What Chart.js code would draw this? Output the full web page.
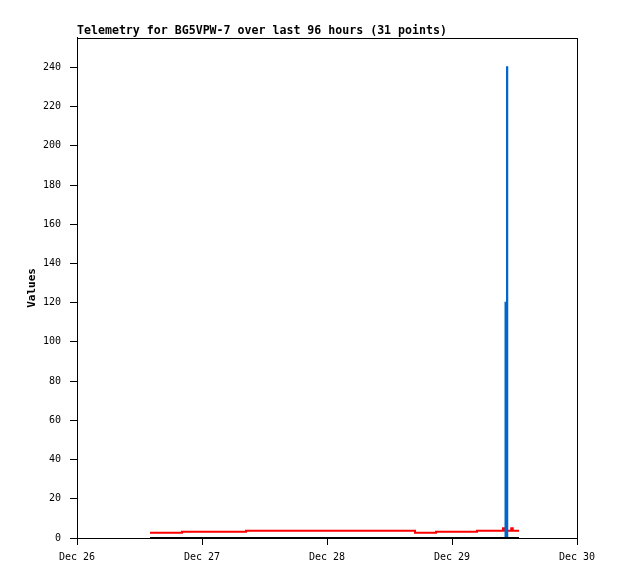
<!DOCTYPE html>
<html>
<head>
<meta charset="utf-8">
<script src="https://cdn.jsdelivr.net/npm/chart.js@4/dist/chart.umd.min.js"></script>
<style>
  html, body { margin: 0; padding: 0; background: #fff; }
  #wrap { width: 618px; height: 579px; }
</style>
</head>
<body>
<div id="wrap"><canvas id="telemetry"></canvas></div>
<script>
// time of each packet, in days of December
const times = [
  26.584, 26.84, 26.97, 27.10, 27.23, 27.352, 27.49, 27.63, 27.77, 27.91,
  28.05, 28.19, 28.33, 28.47, 28.60, 28.704, 28.872, 29.00, 29.10, 29.2,
  29.31, 29.396, 29.408, 29.42, 29.428, 29.44, 29.442, 29.462, 29.474, 29.486,
  29.536
];
// each value holds from its packet until the next one
const redValues = [
  2.7, 3.2, 3.2, 3.2, 3.2, 3.7, 3.7, 3.7, 3.7, 3.7,
  3.7, 3.7, 3.7, 3.7, 3.7, 2.7, 3.2, 3.2, 3.2, 3.7,
  3.7, 3.7, 5.0, 3.7, 3.7, 3.7, 3.7, 3.7, 5.0, 3.7,
  3.7
];
const blueValues = [
  0, 0, 0, 0, 0, 0, 0, 0, 0, 0,
  0, 0, 0, 0, 0, 0, 0, 0, 0, 0,
  0, 0, 0, 0, 120, 240, 0, 0, 0, 0,
  0
];
const blackValues = [
  0, 0, 0, 0, 0, 0, 0, 0, 0, 0,
  0, 0, 0, 0, 0, 0, 0, 0, 0, 0,
  0, 0, 0, 0, 0, 0, 0, 0, 0, 0,
  0
];
const dayTicks = [26, 27, 28, 29, 30];
const valueTicks = [0, 20, 40, 60, 80, 100, 120, 140, 160, 180, 200, 220, 240];

const pts = vals => vals.map((v, i) => ({ x: times[i], y: v }));
const mono = 'DejaVu Sans Mono';

const frame = {
  id: 'frame',
  afterDatasetsDraw(chart) {
    const a = chart.chartArea, ctx = chart.ctx;
    ctx.save();
    ctx.strokeStyle = '#000';
    ctx.lineWidth = 1;
    ctx.strokeRect(Math.round(a.left) + 0.5, Math.round(a.top) + 0.5,
      Math.round(a.right - a.left), Math.round(a.bottom - a.top));
    ctx.restore();
  }
};

new Chart(document.getElementById('telemetry'), {
  type: 'line',
  data: {
    datasets: [
      { data: pts(blackValues), borderColor: '#000000', order: 1 },
      { data: pts(blueValues), borderColor: '#0066cc', order: 2 },
      { data: pts(redValues), borderColor: '#ff0000', order: 3 }
    ]
  },
  options: {
    responsive: true,
    maintainAspectRatio: false,
    animation: false,
    layout: { padding: { left: 0, right: 41, top: 0, bottom: 0 } },
    elements: {
      line: { borderWidth: 2, stepped: 'before', tension: 0 },
      point: { radius: 0 }
    },
    plugins: {
      legend: { display: false },
      tooltip: { enabled: false },
      title: {
        display: true,
        fullSize: false,
        align: 'start',
        text: 'Telemetry for BG5VPW-7 over last 96 hours (31 points)',
        color: '#000',
        font: { family: mono, size: 11.6, weight: 'bold', lineHeight: 1.2 },
        padding: { top: 24, bottom: 0 }
      }
    },
    scales: {
      x: {
        type: 'linear',
        min: 26,
        max: 30,
        afterFit: s => { s.height = 41; },
        afterBuildTicks: s => { s.ticks = dayTicks.map(v => ({ value: v })); },
        grid: { drawOnChartArea: false, drawTicks: true, tickLength: 7, color: '#000' },
        border: { display: true, color: '#000' },
        ticks: {
          color: '#000',
          font: { family: mono, size: 10 },
          padding: 6,
          maxRotation: 0,
          callback: v => 'Dec ' + v
        }
      },
      y: {
        min: 0,
        max: 255,
        afterFit: s => { s.width = 77; },
        afterBuildTicks: s => { s.ticks = valueTicks.map(v => ({ value: v })); },
        grid: { drawOnChartArea: false, drawTicks: true, tickLength: 7, color: '#000' },
        border: { display: true, color: '#000' },
        ticks: {
          color: '#000',
          font: { family: mono, size: 10 },
          padding: 9
        },
        title: {
          display: true,
          text: 'Values',
          color: '#000',
          font: { family: mono, size: 11, weight: 'bold' },
          padding: { top: 26, bottom: 0 }
        }
      }
    }
  },
  plugins: [frame]
});
</script>
</body>
</html>
